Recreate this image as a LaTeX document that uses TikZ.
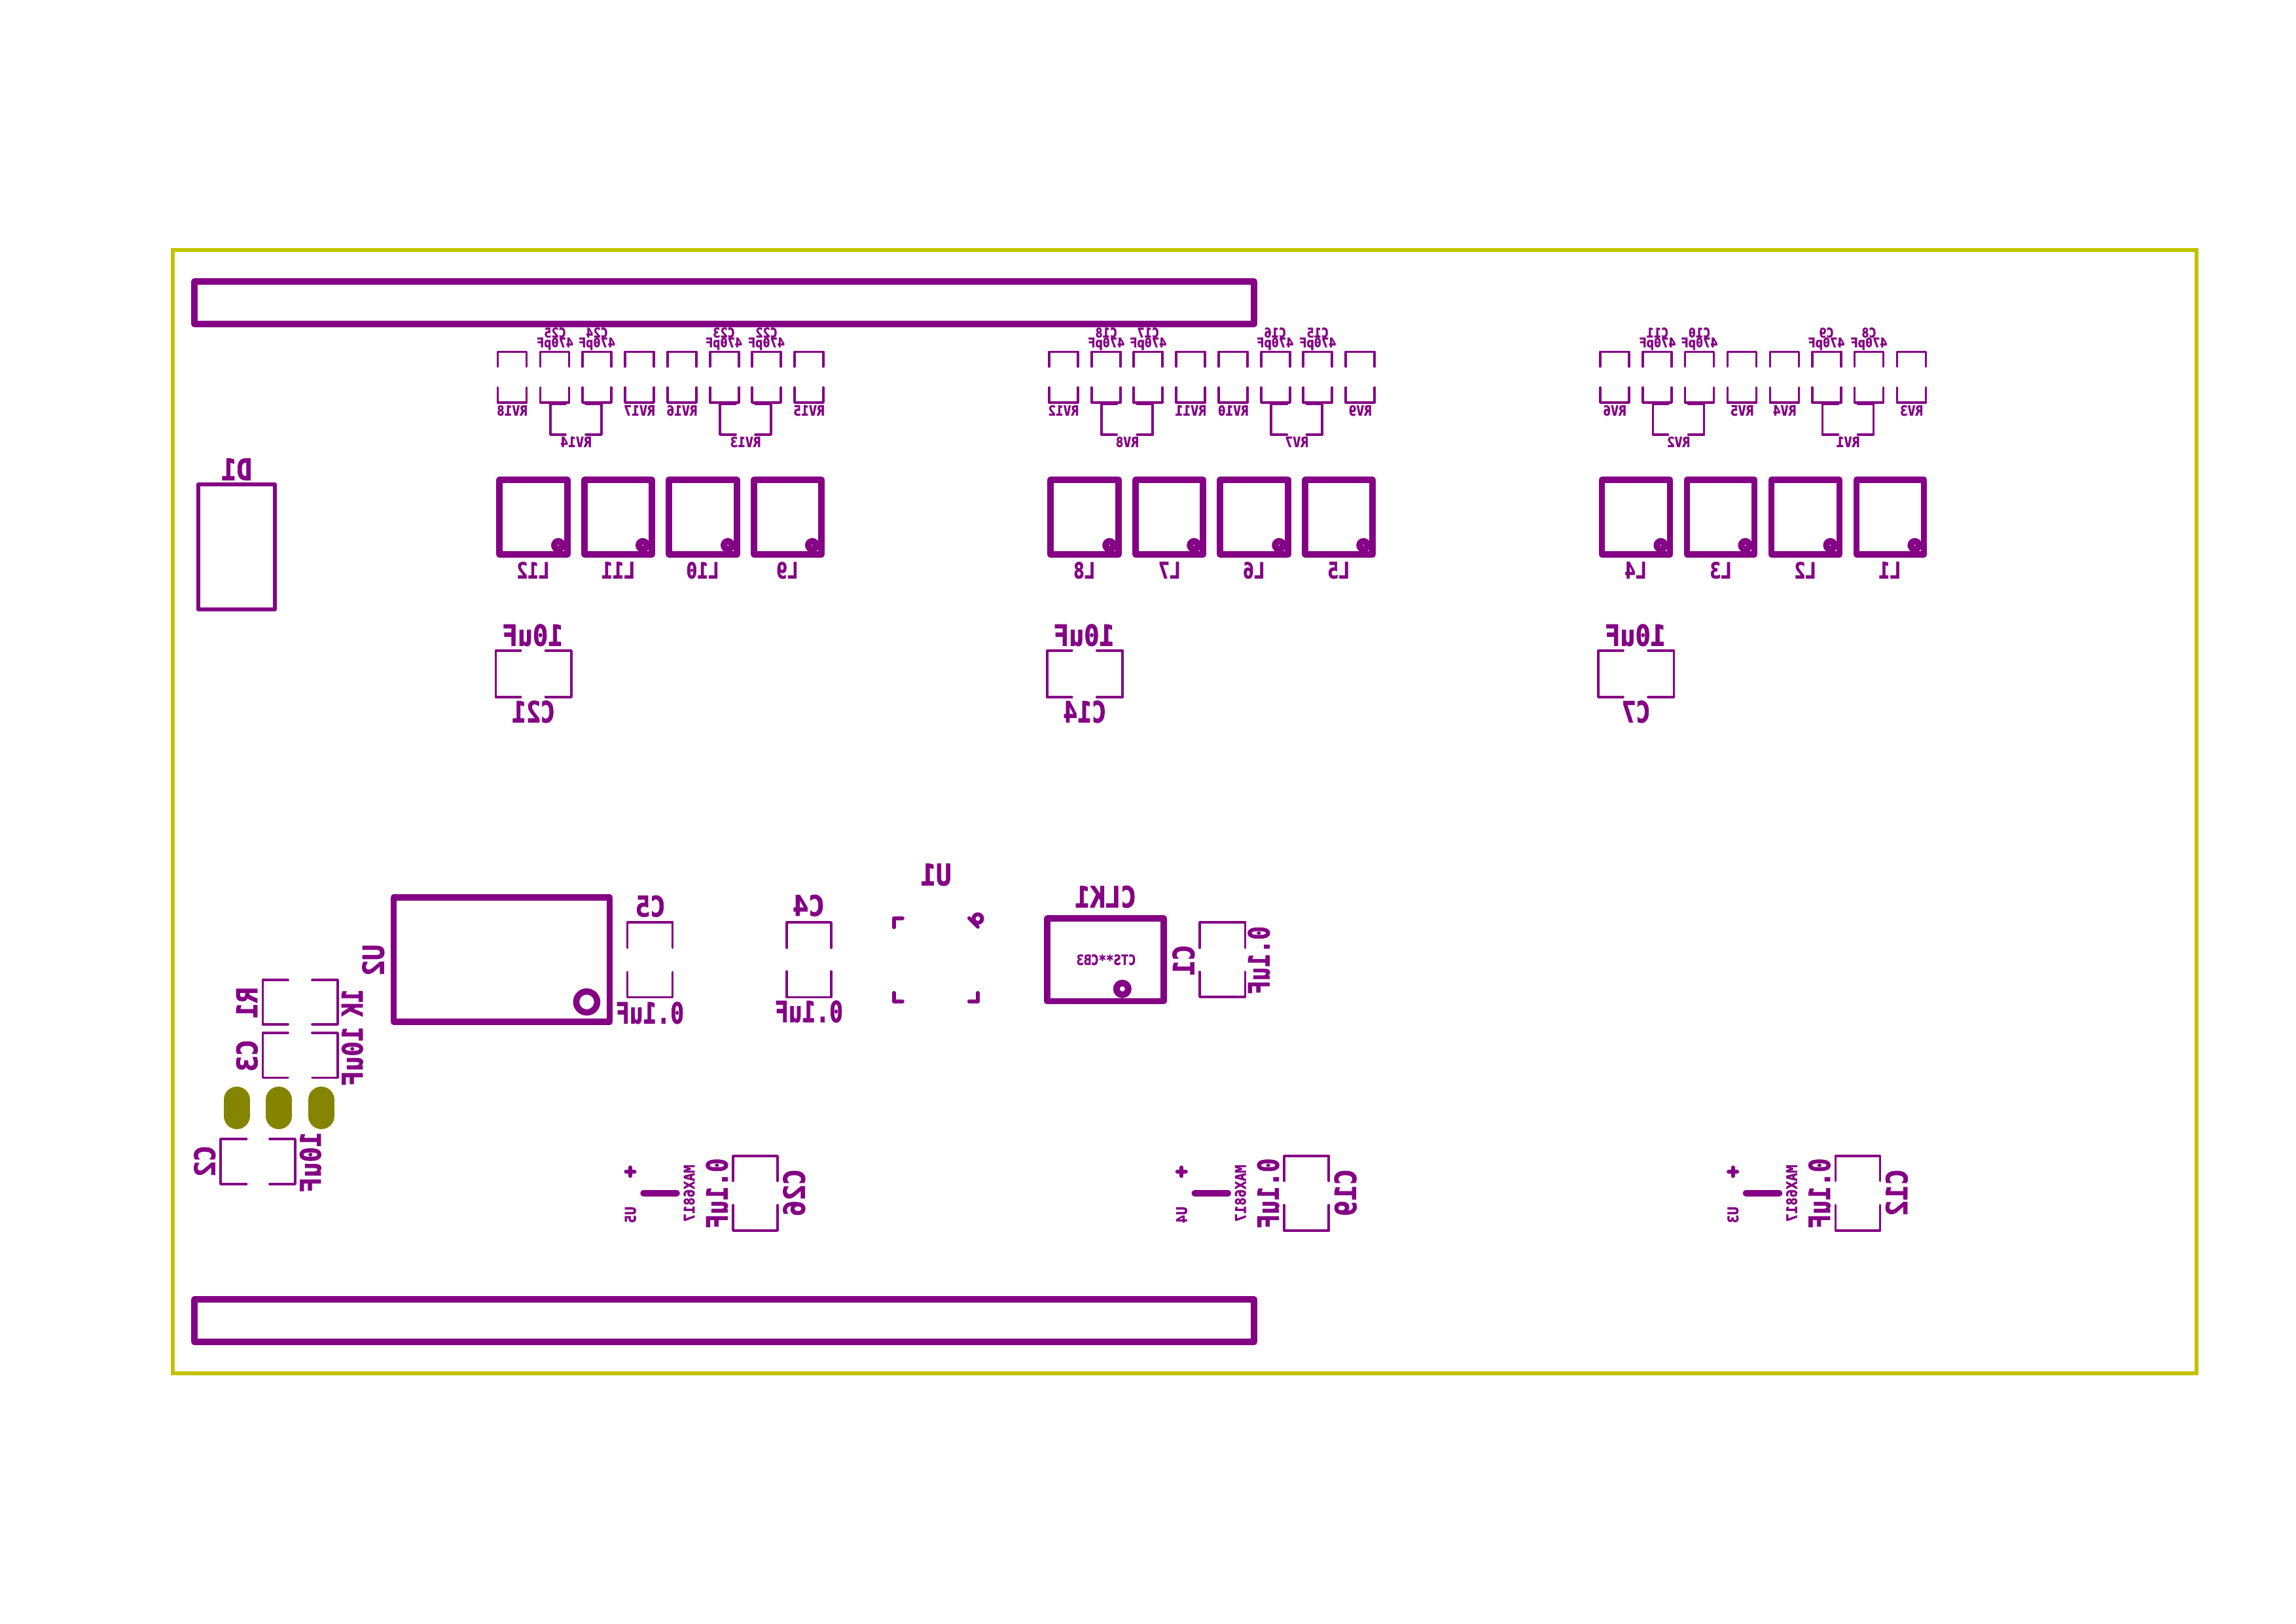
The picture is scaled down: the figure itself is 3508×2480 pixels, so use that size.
\documentclass[tikz,border=0pt]{standalone}
\usepackage{graphicx}
\usepackage{fontspec}
\newfontfamily\silkfont{DejaVu Sans Mono}[UprightFont={* Bold},FakeBold=2]
\definecolor{silk}{HTML}{840084}
\definecolor{pad}{HTML}{848400}
\definecolor{edgecut}{HTML}{C2C200}
\newdimen\px \px=.24pt
\newcounter{tn}
\tikzset{
  silkthin/.style={draw=silk,line width=3.6\px,line cap=round,line join=round},
  silkmid/.style={draw=silk,line width=5.6\px,line cap=round,line join=round},
  silkfat/.style={draw=silk,line width=9.6\px,line cap=round,line join=round},
  boardedge/.style={draw=edgecut,line width=6\px,line join=miter},
  padfill/.style={draw=pad,line width=40\px,line cap=round},
  lab/.style={inner sep=0pt,outer sep=0pt,text=silk,font=\silkfont},
}
% text fitted to a measured length: x y rotation capheight length text
\newcommand\T[6]{\stepcounter{tn}%
  \node[lab] (t\arabic{tn}) at (#1,#2) {\rotatebox{#3}{\scalebox{-1}[1]{\raisebox{0pt}[\height][0pt]{\resizebox{#5\px}{#4\px}{#6}}}}};}
% text with a fixed look: x y capheight widthfactor text
\newcommand\Tf[5]{\stepcounter{tn}%
  \node[lab] (t\arabic{tn}) at (#1,#2) {\scalebox{-#4}[1]{\raisebox{0pt}[\height][0pt]{\resizebox{!}{#3\px}{#5}}}};}
\newcommand\VC[6]{\draw[silkthin] (#1,#4)--(#1,#3)--(#2,#3)--(#2,#4) (#1,#5)--(#1,#6)--(#2,#6)--(#2,#5);}
\newcommand\HC[6]{\draw[silkthin] (#3,#5)--(#1,#5)--(#1,#6)--(#3,#6) (#4,#5)--(#2,#5)--(#2,#6)--(#4,#6);}
\newcommand\Row[2]{\VC{\fpeval{#1-22}}{\fpeval{#1+22}}{537.5}{560}{592}{615}}
\newcommand\RVlab[2]{\Tf{#1}{627}{15.7}{.92}{#2}}
\newcommand\CPlab[3]{\Tf{#1}{508}{15}{.92}{#2}\Tf{#1}{523}{15}{.92}{#3}}
\newcommand\Lbox[4]{\draw[silkfat] (#1,733) rectangle (#2,847);
  \draw[silk,line width=10\px] (\fpeval{#2-14},833) circle (6\px);
  \Tf{#3}{871}{25}{.83}{#4}}
\newcommand\ChanA[9]{\begin{scope}[shift={(#1,0)}]
  \RVlab{782.5}{#2}\CPlab{848}{#3}{470pF}\CPlab{912}{#4}{470pF}\RVlab{977}{#5}
  \RVlab{1042}{#6}\CPlab{1106}{#7}{470pF}\CPlab{1171}{#8}{470pF}\RVlab{1236}{#9}
  \end{scope}}
\newcommand\ChanB[7]{\begin{scope}[shift={(#1,0)}]
  \Row{782.5}{}\Row{847.5}{}\Row{912}{}\Row{977}{}\Row{1042}{}\Row{1106.7}{}\Row{1171}{}\Row{1236}{}
  \HC{841}{919}{864}{895}{617}{664}\Tf{880}{675}{15.7}{.92}{#2}
  \HC{1100}{1178}{1124}{1154}{617}{664}\Tf{1139}{675}{15.7}{.92}{#3}
  \Lbox{763}{867}{814.6}{#4}\Lbox{893}{996}{944.7}{#5}\Lbox{1022}{1126}{1073.7}{#6}\Lbox{1152}{1255}{1203}{#7}
  \end{scope}}
\newcommand\ChanC[5]{\begin{scope}[shift={(#1,0)}]
  \HC{757.5}{873}{795.5}{833.5}{994}{1065}
  \T{814}{970}{0}{33}{93}{10uF}\Tf{815}{1087}{33}{.82}{#2}
  \VC{1120}{1188}{1766}{1804}{1841}{1880}
  \draw[silkfat] (983,1822.7)--(1034,1822.7);
  \draw[silk,line width=6\px,line cap=round] (956.5,1790)--(969.5,1790) (963,1783.5)--(963,1796.5);
  \T{963}{1856}{90}{16.5}{25}{#3}
  \T{1052.8}{1823}{90}{16.5}{87}{MAX6817}
  \T{1095}{1823}{90}{33}{107}{0.1uF}
  \T{1213}{1822}{90}{33}{72}{#4}
  \end{scope}}
\begin{document}
\begin{tikzpicture}[x=.24pt,y=-.24pt]
\useasboundingbox (0,0) rectangle (3508,2480);
% board outline
\draw[boardedge] (264,382) rectangle (3356,2098);
% edge connectors
\draw[silkfat] (297,430) rectangle (1916,495);
\draw[silkfat] (297,1985) rectangle (1916,2050);
% diode
\draw[silkmid] (303,740) rectangle (420,931);
\T{361.5}{717}{0}{33}{47}{D1}
% channels
\ChanA{0}{RV18}{C25}{C24}{RV17}{RV16}{C23}{C22}{RV15}
\ChanB{0}{RV14}{RV13}{L12}{L11}{L10}{L9}{}
\ChanC{0}{C21}{U5}{C26}{}
\ChanA{842.25}{RV12}{C18}{C17}{RV11}{RV10}{C16}{C15}{RV9}
\ChanB{842.25}{RV8}{RV7}{L8}{L7}{L6}{L5}{}
\ChanC{842.25}{C14}{U4}{C19}{}
\ChanA{1684.5}{RV6}{C11}{C10}{RV5}{RV4}{C9}{C8}{RV3}
\ChanB{1684.5}{RV2}{RV1}{L4}{L3}{L2}{L1}{}
\ChanC{1684.5}{C7}{U3}{C12}{}
% U2
\draw[silkfat] (601.5,1371) rectangle (931.5,1561);
\draw[silk,line width=9.6\px] (896.4,1530.7) circle (16\px);
\T{570}{1467}{90}{33}{48}{U2}
% R1, C3, C2 and the pads
\HC{401.5}{516}{440}{477}{1497}{1565}
\HC{401.5}{516}{440}{477}{1578}{1646.6}
\HC{337}{451}{376.5}{412}{1740}{1809}
\T{377}{1532}{90}{32}{47.5}{R1}
\T{377}{1612.6}{90}{32}{49}{C3}
\T{538}{1532}{90}{32}{42}{1K}
\T{538}{1613.7}{90}{32}{91}{10uF}
\T{312.5}{1774}{90}{32}{48}{C2}
\T{474}{1775.5}{90}{32}{93}{10uF}
\draw[padfill] (361.7,1680)--(361.7,1705);
\draw[padfill] (426,1680)--(426,1705);
\draw[padfill] (490.8,1680)--(490.8,1705);
% C5, C4
\VC{958.6}{1027.6}{1409}{1448}{1485}{1523.4}
\T{993.6}{1384}{0}{32}{46}{C5}
\T{993}{1547}{0}{33}{104}{0.1uF}
\VC{1202}{1270}{1409}{1448}{1484}{1523.4}
\T{1235.4}{1383}{0}{32}{49}{C4}
\T{1236}{1545}{0}{33}{104}{0.1uF}
% U1
\draw[silkmid] (1379,1402.7)--(1366,1402.7)--(1366,1416.7);
\draw[silkmid] (1366,1516.7)--(1366,1530)--(1379,1530);
\draw[silkmid] (1494,1516.7)--(1494,1530)--(1480.7,1530);
\draw[silkmid] (1480.7,1402.7)--(1494,1416);
\draw[silk,line width=6\px] (1494,1403.3) circle (6.5\px);
\T{1430}{1336}{0}{33}{47}{U1}
% CLK1
\draw[silkfat] (1600,1403) rectangle (1778,1529.5);
\draw[silk,line width=10\px] (1714.8,1510.7) circle (9\px);
\T{1689}{1369.6}{0}{33}{94}{CLK1}
\T{1690}{1466}{0}{16}{91}{CTS**CB3}
% C1
\VC{1833}{1902.5}{1409}{1448}{1484.6}{1523}
\T{1808}{1467}{90}{33}{47}{C1}
\T{1923}{1467}{90}{33}{104}{0.1uF}
\end{tikzpicture}
\end{document}
